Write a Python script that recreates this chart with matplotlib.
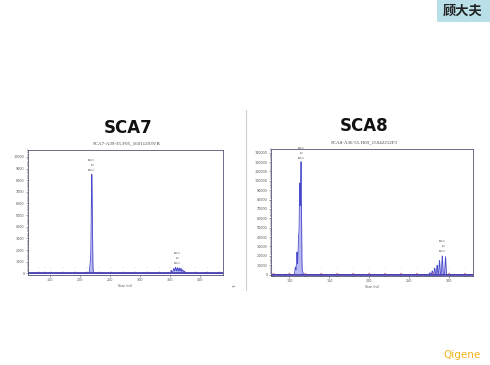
import numpy as np
import matplotlib
matplotlib.use("Agg")
import matplotlib.pyplot as plt
from matplotlib.patches import Rectangle

plt.rcParams['font.family'] = ['DejaVu Sans', 'Noto Sans CJK SC']

# ---------------- data ----------------
sca7_title = "SCA7"
sca7_sub = "SCA7-A39-35.F05_16011203VB"
sca7_peak_pos = [217.5, 220.0, 352, 356, 359, 362, 365, 368, 371, 374]
sca7_peak_h = [900, 8500, 250, 400, 500, 480, 450, 420, 300, 180]
sca7_ladder = [132, 142, 152, 172, 192, 212, 232, 252, 272, 292, 312, 332, 352, 372, 392, 412, 432]
sca7_xticks = [150, 200, 250, 300, 350, 400]
sca7_yticks = [0, 1000, 2000, 3000, 4000, 5000, 6000, 7000, 8000, 9000, 10000]
sca7_note_x = 220.0
sca7_note2_x = 362

sca8_title = "SCA8"
sca8_sub = "SCA8-A36-55.H09_15042212F3"
sca8_peak_pos = [107.5, 109.5, 111.5, 113.0, 114.6, 116.5, 276, 279, 282, 285, 288, 291.5, 295.5]
sca8_peak_h = [8000, 24000, 40000, 95000, 119000, 3000, 2000, 4000, 7000, 10000, 15000, 20000, 19000]
sca8_ladder = [80, 100, 120, 140, 160, 180, 200, 220, 240, 260, 280, 300, 320]
sca8_xticks = [100, 150, 200, 250, 300]
sca8_yticks = [0, 10000, 20000, 30000, 40000, 50000, 60000, 70000, 80000, 90000,
               100000, 110000, 120000, 130000]
sca8_note_x = 114.6
sca8_note2_x = 292

W, H = 490, 365
fig = plt.figure(figsize=(W / 100, H / 100), dpi=100)
fig.patch.set_facecolor("white")


def fx(px):
    return px / W


def fy(py):
    return 1 - py / H


# top-right name tag
fig.patches.append(Rectangle((fx(437), fy(22)), fx(53), 22 / H, transform=fig.transFigure,
                             facecolor="#b9dfe9", edgecolor="none", zorder=0))
fig.text(fx(463), fy(11), "顾大夫", family=['Noto Sans CJK SC', 'DejaVu Sans'],
         fontsize=9.5, fontweight="bold", ha="center", va="center", color="#222222")
fig.text(fx(462), fy(355), "Qigene", fontsize=7.5, ha="center", va="center", color="#f2b51c")

# separator line
fig.add_artist(plt.Line2D([fx(245.5), fx(245.5)], [fy(110), fy(290)], transform=fig.transFigure,
                          color="#d0d0d0", lw=0.8))


def panel(rect, title, sub, title_xy, sub_xy, pos, hts, ladder, xticks, yticks, xlim, ylim,
          width, note_x, note2_x, note_y, note2_y):
    ax = fig.add_axes(rect)
    x = np.linspace(xlim[0], xlim[1], 4000)
    y = np.zeros_like(x)
    for p, h in zip(pos, hts):
        y += h * np.exp(-0.5 * ((x - p) / width) ** 2)
    ax.fill_between(x, 0, y, color="#b8b8f0", lw=0)
    ax.plot(x, y, color="#4a4acc", lw=0.6)
    # red size standard bumps
    yr = np.zeros_like(x)
    for p in ladder:
        yr += ylim[1] * 0.012 * np.exp(-0.5 * ((x - p) / 0.8) ** 2)
    ax.plot(x, yr, color="#e06060", lw=0.4)
    ax.axhline(0, color="#3c3cb4", lw=1.2)
    for p in ladder:
        ax.text(p, ylim[1] * 0.045, "---", fontsize=1.6, ha="center", va="center", color="#777777")
    ax.set_xlim(*xlim)
    ax.set_ylim(*ylim)
    ax.set_xticks(xticks)
    ax.set_xticklabels([str(t) for t in xticks])
    ax.set_yticks(yticks)
    ax.set_yticklabels([str(t) for t in yticks])
    ax.tick_params(labelsize=2.4, length=1.5, width=0.4, pad=1, colors="#555555")
    ax.minorticks_on()
    ax.tick_params(which="minor", length=0.8, width=0.3)
    for s in ax.spines.values():
        s.set_color("#555577")
        s.set_linewidth(0.6)
    ax.set_xlabel("Size (nt)", fontsize=2.4, labelpad=1, color="#555555")
    ax.text(note_x, note_y, "xxx.x\n xx\nxxx.x", fontsize=1.8, ha="center", va="bottom",
            color="#555555", linespacing=1.4)
    ax.text(note2_x, note2_y, "xxx.x\n xx\nxxx.x", fontsize=1.8, ha="center", va="bottom",
            color="#555555", linespacing=1.4)
    fig.text(fx(title_xy[0]), fy(title_xy[1]), title, fontsize=12, fontweight="bold",
             ha="center", va="center", color="#111111")
    fig.text(fx(sub_xy[0]), fy(sub_xy[1]), sub, fontsize=3.6, family="Liberation Serif",
             ha="center", va="center", color="#444444")
    return ax


panel([fx(28), fy(275), fx(223 - 28), (275 - 150) / H], sca7_title, sca7_sub, (128, 128), (127, 143),
      sca7_peak_pos, sca7_peak_h, sca7_ladder, sca7_xticks, sca7_yticks, (114, 438), (-150, 10600),
      0.85, sca7_note_x, sca7_note2_x, 8700, 700)
fig.text(fx(234), fy(287), "↵", fontsize=3, color="#666666", ha="center", va="center")

panel([fx(271), fy(276), fx(473 - 271), (276 - 149) / H], sca8_title, sca8_sub, (364, 126), (364, 142),
      sca8_peak_pos, sca8_peak_h, sca8_ladder, sca8_xticks, sca8_yticks, (77, 330), (-1500, 134000),
      0.55, sca8_note_x, sca8_note2_x, 122000, 23000)

fig.savefig("out.png", dpi=100, facecolor="white")
